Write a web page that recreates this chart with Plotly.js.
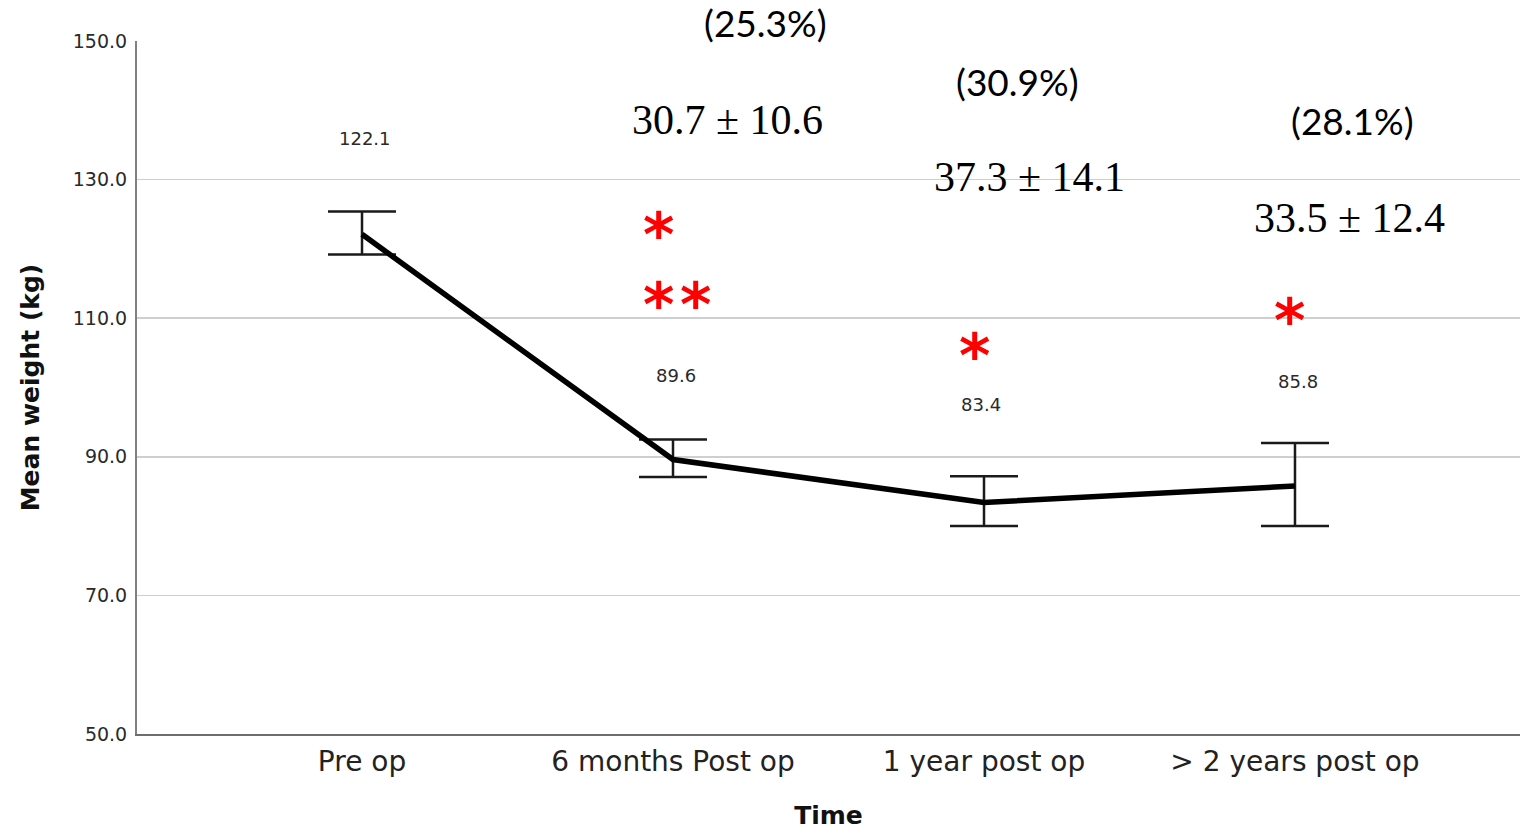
<!DOCTYPE html>
<html>
<head>
<meta charset="utf-8">
<script src="https://cdn.plot.ly/plotly-3.0.1.min.js"></script>
<style>html,body{margin:0;padding:0;background:#fff;}#chart{width:1531px;height:830px;}</style>
</head>
<body>
<div id="chart"></div>
<script>
// ---- data ----
const categories = ["Pre op", "6 months Post op", "1 year post op", "> 2 years post op"];
const meanWeight = [122.1, 89.6, 83.4, 85.8];
const upperCI = [125.4, 92.5, 87.2, 92.0];
const lowerCI = [119.2, 87.1, 80.0, 80.0];
const valueLabels = ["122.1", "89.6", "83.4", "85.8"];
const lossText = ["", "30.7 ± 10.6", "37.3 ± 14.1", "33.5 ± 12.4"];
const lossPct = ["", "(25.3%)", "(30.9%)", "(28.1%)"];
const yTicks = [50, 70, 90, 110, 130, 150];

const idx = categories.map((c, i) => i);
const errPlus = meanWeight.map((m, i) => +(upperCI[i] - m).toFixed(2));
const errMinus = meanWeight.map((m, i) => +(m - lowerCI[i]).toFixed(2));

const trace = {
  x: idx, y: meanWeight, type: 'scatter', mode: 'lines',
  line: {color: '#000', width: 5.5},
  error_y: {type: 'data', symmetric: false, array: errPlus, arrayminus: errMinus,
            color: '#1a1a1a', thickness: 2.5, width: 34},
  hoverinfo: 'skip', showlegend: false
};

// annotation positions (x in category index units, y in weight units)
const valLabelPos = [[0.01, 135.9], [1.01, 101.8], [1.99, 97.6], [3.01, 100.8]];
const lossPos = [null, [1.174, 138.6], [2.145, 130.4], [3.174, 124.4]];
const pctPos = [null, [1.296, 152.7], [2.109, 144.2], [3.186, 138.6]];
const starPos = [[0.952, 123.3], [0.952, 113.2], [1.071, 113.2], [1.971, 105.8], [2.981, 110.9]];

const yMin = 50, yMax = 150;
const toPaper = v => (v - yMin) / (yMax - yMin);

const annotations = [];
valueLabels.forEach((t, i) => annotations.push({
  x: valLabelPos[i][0], y: toPaper(valLabelPos[i][1]), xref: 'x', yref: 'paper', text: t, showarrow: false,
  font: {family: 'DejaVu Sans', size: 18, color: '#2a2a2a'}, xanchor: 'center', yanchor: 'middle'
}));
lossText.forEach((t, i) => { if (t) annotations.push({
  x: lossPos[i][0], y: toPaper(lossPos[i][1]), xref: 'x', yref: 'paper', text: t, showarrow: false,
  font: {family: 'Liberation Serif', size: 42, color: '#000'}, xanchor: 'center', yanchor: 'middle'
}); });
lossPct.forEach((t, i) => { if (t) annotations.push({
  x: pctPos[i][0], y: toPaper(pctPos[i][1]), xref: 'x', yref: 'paper', text: t, showarrow: false,
  font: {family: 'Lato', size: 37, color: '#000'}, xanchor: 'center', yanchor: 'middle'
}); });
starPos.forEach(p => annotations.push({
  x: p[0], y: toPaper(p[1]), xref: 'x', yref: 'paper', text: '*', showarrow: false,
  font: {family: 'DejaVu Sans', size: 60, color: '#ff0000', weight: 'bold'}, xanchor: 'center', yanchor: 'middle', yshift: -9
}));

const layout = {
  width: 1531, height: 830,
  margin: {l: 137, r: 11, t: 41, b: 96},
  paper_bgcolor: '#fff', plot_bgcolor: '#fff',
  xaxis: {
    range: [-0.7235, 3.7235], tickmode: 'array', tickvals: idx, ticktext: categories,
    showgrid: false, zeroline: false, showline: true, linecolor: '#6e6e6e', linewidth: 2,
    ticks: '', ticklabelstandoff: 1,
    tickfont: {family: 'DejaVu Sans', size: 28, color: '#222'},
    title: {text: 'Time', font: {family: 'DejaVu Sans', size: 25, color: '#111', weight: 'bold'}, standoff: 32}
  },
  yaxis: {
    range: [yMin, yMax], tickmode: 'array', tickvals: yTicks, ticktext: yTicks.map(v => v.toFixed(1)),
    showgrid: true, gridcolor: '#cfcfcf', gridwidth: 1.5, zeroline: false,
    showline: true, linecolor: '#808080', linewidth: 2, ticks: '', ticklabelstandoff: 4,
    tickfont: {family: 'DejaVu Sans', size: 19, color: '#2a2a2a'},
    title: {text: 'Mean weight (kg)', font: {family: 'DejaVu Sans', size: 25, color: '#111', weight: 'bold'}, standoff: 26}
  },
  annotations: annotations,
  showlegend: false
};

Plotly.newPlot('chart', [trace], layout, {displayModeBar: false, staticPlot: true});
</script>
</body>
</html>
